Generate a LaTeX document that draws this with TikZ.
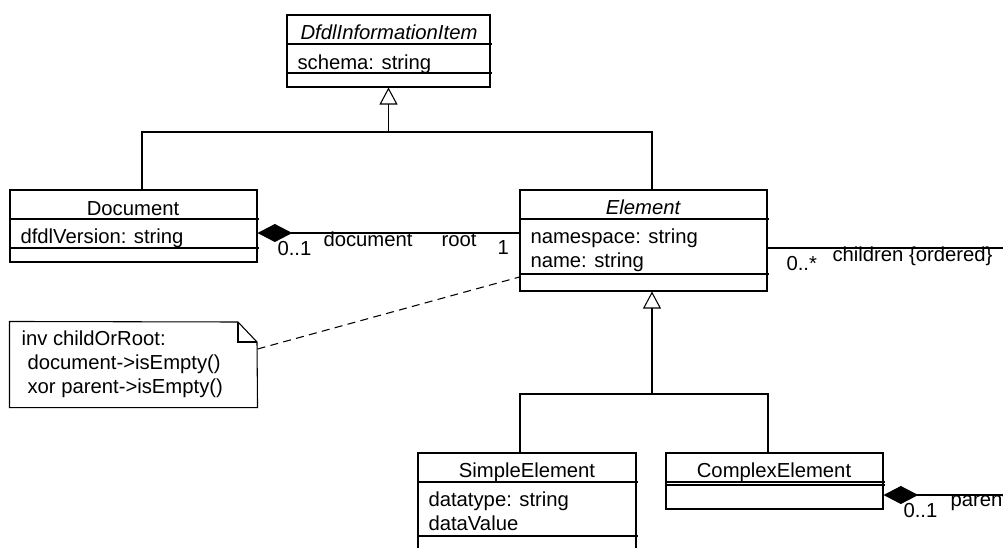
\documentclass[tikz,border=0pt]{standalone}
\usepackage{fontspec}
\setmainfont{Liberation Sans}
\usetikzlibrary{arrows.meta,fit}
\tikzset{
  cls/.style={draw, inner sep=0pt},
  attrib/.style={anchor=base west, inner sep=0pt},
  clsname/.style={anchor=base, inner sep=0pt},
  gen/.style={-{Triangle[open,length=12.75pt,width=13.5pt]}},
  comp/.style={{Diamond[length=26pt,width=13.5pt]}-},
}
\begin{document}
\begin{tikzpicture}[x=0.75pt, y=-0.75pt, line width=0.8pt, font=\fontsize{15.2}{18}\selectfont]
  \useasboundingbox (0,0) rectangle (1003,547);
  % classes
  \node[cls, fit={(287,15) (490,87)}] (item) {};
  \draw (287,44) -- (492,44) (287,73) -- (492,73);
  \node[clsname] (itemname) at (389,39) {\itshape DfdlInformationItem};
  \node[attrib] (itemschema) at (297,69) {schema: string};

  \node[cls, fit={(10,190) (257,262)}] (doc) {};
  \draw (10,219) -- (259,219) (10,248) -- (259,248);
  \node[clsname] (docname) at (133,215) {Document};
  \node[attrib] (docversion) at (20,243) {dfdlVersion: string};

  \node[cls, fit={(520,190) (767,291)}] (elem) {};
  \draw (520,219) -- (769,219) (520,274) -- (769,274);
  \node[clsname] (elemname) at (643,214) {\itshape Element};
  \node[attrib] (elemns) at (530,243) {namespace: string};
  \node[attrib] (elemnm) at (530,267) {name: string};

  \node[cls, fit={(418,453) (636,570)}] (simple) {};
  \draw (418,482) -- (638,482) (418,536) -- (638,536);
  \node[clsname] (simplename) at (527,477) {SimpleElement};
  \node[attrib] (simpletype) at (428,506) {datatype: string};
  \node[attrib] (simplevalue) at (428,530) {dataValue};

  \node[cls, fit={(666,453) (883,509)}] (cplx) {};
  \draw (666,482) -- (885,482) (666,485) -- (885,485);
  \node[clsname] (cplxname) at (774,477) {ComplexElement};

  % note
  \node[inner sep=0pt, fit={(10,322) (257,407)}] (note) {};
  \draw (note.south west) -- (note.north west) -- (238,322) -- (257,342) -- (note.south east) -- cycle;
  \draw (238,322) -- (238,342) -- (257,342);
  \node[attrib] (noteline1) at (21,345) {inv childOrRoot:};
  \node[attrib] (noteline2) at (27,369) {document->isEmpty()};
  \node[attrib] (noteline3) at (27,393) {xor parent->isEmpty()};

  % connectors
  \coordinate (top) at (item.south |- 0,132);
  \coordinate (mid) at (652,394);
  \coordinate (kids) at (1010,248);
  \coordinate (par) at (1010,495);
  \begin{scope}
    \draw[gen] (top) -- (item.south);
    \draw (doc.north -| 142,0) |- (top) -| (elem.north -| 652,0);
    \draw[gen] (mid) -- (elem.south -| mid);
    \draw (simple.north -| 520,0) |- (mid) -| (cplx.north -| 768,0);
    \draw[comp] (doc.east |- 0,233) -- (elem.west |- 0,233);
    \draw (elem.east |- 0,248) -- (kids);
    \draw[comp] (cplx.east |- 0,495) -- (par);
    \draw[dash pattern=on 6pt off 4pt] (note.east |- 0,349) -- (elem.west |- 0,277);
  \end{scope}

  % role and multiplicity labels
  \node[attrib] (docmult) at (277,255) {0..1};
  \node[attrib] (docrole) at (323,246) {document};
  \node[attrib] (rootrole) at (441,246) {root};
  \node[attrib] (rootmult) at (497,254) {1};
  \node[attrib] (kidsmult) at (786,270) {0..*};
  \node[attrib] (kidsrole) at (832,261) {children \{ordered\}};
  \node[attrib] (parmult) at (903,517) {0..1};
  \node[attrib] (parrole) at (950,506) {parent};
\end{tikzpicture}
\end{document}
